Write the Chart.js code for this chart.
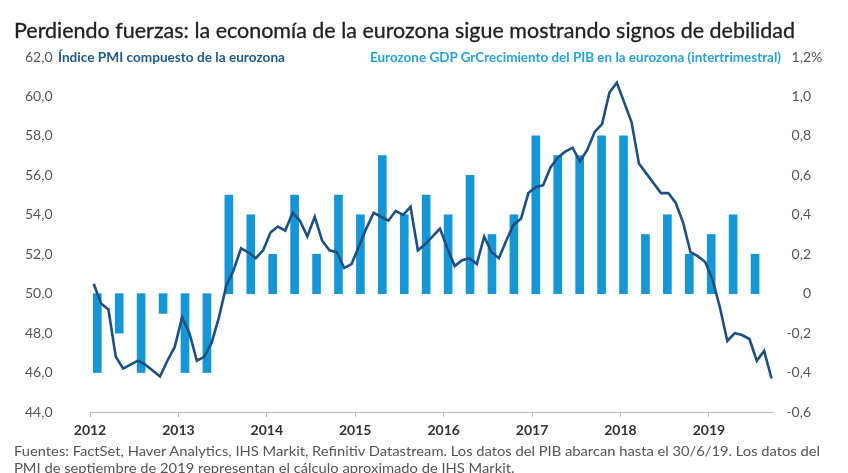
<!DOCTYPE html>
<html><head><meta charset="utf-8">
<script src="https://cdn.jsdelivr.net/npm/chart.js@4.4.1/dist/chart.umd.min.js"></script>
<style>
html,body{margin:0;padding:0;background:#fff;width:848px;height:473px;overflow:hidden;position:relative;font-family:Lato,"Noto Sans",sans-serif}
#wrap{position:absolute;left:0;top:0;width:848px;height:445px}
.t{position:absolute;white-space:nowrap;transform-origin:0 50%;line-height:1}
</style></head><body>
<div id="wrap"><canvas id="c" width="848" height="445"></canvas></div>
<div class="t" id="title" data-w="781" style="left:14px;top:19px;font-size:21px;color:#222;-webkit-text-stroke:0.3px #222;">Perdiendo fuerzas: la economía de la eurozona sigue mostrando signos de debilidad</div>
<div class="t" id="lg1" data-w="227" style="left:58px;top:50px;font-size:14px;font-weight:bold;color:#1d5b8c;">Índice PMI compuesto de la eurozona</div>
<div class="t" id="lg2" data-w="411" style="left:370px;top:50px;font-size:14px;font-weight:bold;color:#27a1d9;">Eurozone GDP GrCrecimiento del PIB en la eurozona (intertrimestral)</div>
<div class="t" id="pct" style="left:811px;top:50px;font-size:14px;color:#555;">%</div>
<div class="t" id="f1" data-w="806" style="left:14px;top:444px;font-size:14px;color:#555;">Fuentes: FactSet, Haver Analytics, IHS Markit, Refinitiv Datastream. Los datos del PIB abarcan hasta el 30/6/19. Los datos del</div>
<div class="t" id="f2" style="left:14px;top:461px;font-size:14px;color:#555;">PMI de septiembre de 2019 representan el cálculo aproximado de IHS Markit.</div>
<script>
// Year tick labels
const yearLabels = ['2012','2013','2014','2015','2016','2017','2018','2019'];
// Monthly PMI, Jan 2012 .. Sep 2019
const pmi = [50.5,49.5,49.2,46.8,46.2,46.4,46.6,46.4,46.1,45.8,46.6,47.3,
  48.8,48.0,46.6,46.8,47.5,48.8,50.4,51.2,52.3,52.1,51.8,52.2,
  53.1,53.4,53.2,54.1,53.7,52.9,53.9,52.7,52.2,52.1,51.3,51.5,
  52.4,53.3,54.1,53.9,53.7,54.2,54.0,54.4,52.2,52.5,52.9,53.3,
  52.3,51.4,51.7,51.8,51.5,52.9,52.1,51.8,52.7,53.5,53.8,55.1,
  55.4,55.5,56.4,56.9,57.2,57.4,56.7,57.3,58.2,58.6,60.2,60.7,
  59.7,58.7,56.6,56.1,55.6,55.1,55.1,54.6,53.6,52.1,51.9,51.6,
  50.7,49.3,47.6,48.0,47.9,47.7,46.6,47.1,45.7];
// Quarterly GDP growth (q/q, %)
const gdp = [-0.4,-0.2,-0.4,-0.1,-0.4,-0.4,0.5,0.4,0.2,0.5,0.2,0.5,0.4,0.7,0.4,0.5,
  0.4,0.6,0.3,0.4,0.8,0.7,0.7,0.8,0.8,0.3,0.4,0.2,0.3,0.4,0.2];

const fmt = v => { const r = Math.round(v*10)/10; return r.toFixed(1).replace('.', ','); };
const fontTick = {family:'Lato', size:14};

const chart = new Chart(document.getElementById('c'), {
  type: 'bar',
  data: {
    datasets: [
      {type:'line', label:'PMI', data: pmi.map((v,i)=>({x:i+0.5, y:v})), xAxisID:'x', yAxisID:'y',
       borderColor:'#1c4f82', borderWidth:2.6, pointRadius:0, tension:0, fill:false, order:0},
      {type:'bar', label:'GDP', data: gdp.map((v,k)=>({x:k, y:v})), xAxisID:'x2', yAxisID:'y1',
       backgroundColor:'#1597d7', barThickness:8, order:1}
    ]
  },
  options: {
    responsive:false, animation:false,
    layout:{padding:{top:57, bottom:0, left:25, right:37}},
    plugins:{legend:{display:false}, tooltip:{enabled:false}},
    scales: {
      x: {type:'linear', min:0, max:92.7, position:'bottom', offset:false,
          afterFit: s => { s.height = 33; },
          afterBuildTicks: s => { s.ticks = yearLabels.map((l,j)=>({value:j*12})); },
          ticks:{autoSkip:false, maxRotation:0, padding:5, color:'#333', font:{family:'Lato', size:14, weight:'bold'},
                 callback:(v)=> yearLabels[Math.round(v/12)]},
          grid:{display:true, offset:false, drawOnChartArea:false, drawTicks:true, tickLength:5, color:'#bbb'},
          border:{display:true, color:'#bbb', width:1}},
      x2: {type:'linear', min:-0.15, max:31.0, display:false, offset:false, grid:{offset:false}},
      y: {position:'left', min:44, max:62,
          afterFit: s => { s.width = 65; },
          ticks:{stepSize:2, padding:0, crossAlign:'far', color:'#555', font:fontTick, callback: v => fmt(v)},
          grid:{display:false, drawTicks:false}, border:{display:false}},
      y1: {position:'right', min:-0.6, max:1.2,
          afterFit: s => { s.width = 38; },
          ticks:{stepSize:0.2, padding:0, crossAlign:'far', color:'#555', font:fontTick,
                 callback: v => { const r = Math.round(v*10)/10; return r === 0 ? '0' : fmt(r); }},
          grid:{display:false, drawTicks:false}, border:{display:false}}
    }
  }
});

function fit(){
  let s1 = 1;
  document.querySelectorAll('[data-w]').forEach(el => {
    const w = el.getBoundingClientRect().width;
    const s = parseFloat(el.dataset.w)/w;
    el.style.transform = 'scaleX(' + s + ')';
    if (el.id === 'f1') s1 = s;
  });
  document.getElementById('f2').style.transform = 'scaleX(' + s1 + ')';
}
fit();
</script>
</body></html>
